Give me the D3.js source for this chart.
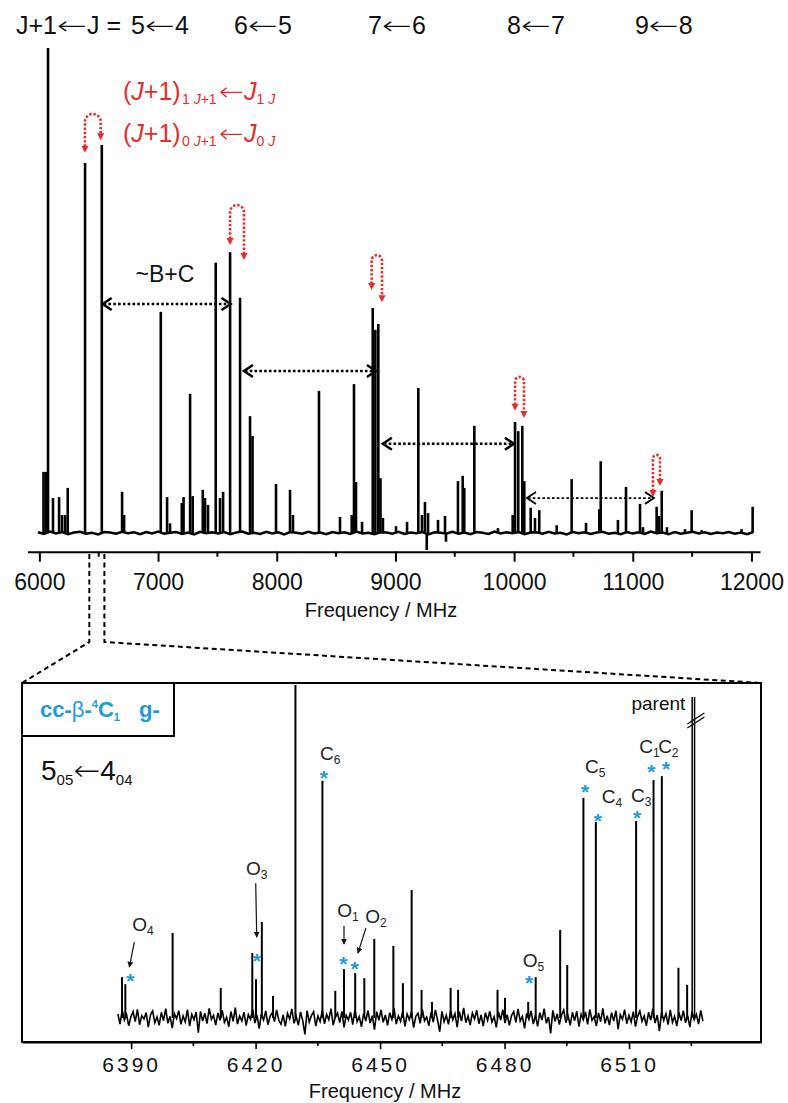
<!DOCTYPE html>
<html>
<head>
<meta charset="utf-8">
<script src="https://cdn.jsdelivr.net/npm/d3@7"></script>
<style>
  body { margin: 0; background: #fff; }
  svg text { font-family: "Liberation Sans", Arial, sans-serif; }
</style>
</head>
<body>
<svg id="chart" width="788" height="1103"></svg>
<script>
// ---- survey spectrum 6-12 GHz: [MHz, relative intensity] ----
const surveyPeaks = [
  [6035, 12.6], [6055, 12.6], [6073, 100], [6115, 7.2], [6166, 7.4], [6191, 3.7], [6217, 3.7], [6239, 9.3],
  [6385, 76.3], [6526, 80.0], [6697, 8.5], [6714, 3.7], [7023, 45.6], [7076, 7.4], [7101, 2.0], [7200, 6.2],
  [7215, 7.4], [7270, 28.7], [7292, 7.6], [7377, 8.9], [7396, 7.2], [7421, 5.8], [7486, 55.7], [7522, 7.2],
  [7548, 8.5], [7607, 57.9], [7691, 48.5], [7775, 24.1], [7796, 20.0], [7994, 10.1], [8112, 8.9], [8137, 3.7],
  [8356, 29.3], [8533, 3.3], [8632, 3.7], [8651, 30.7], [8668, 10.5], [8719, 2.3], [8809, 46.4], [8831, 41.9],
  [8856, 43.1], [8874, 11.3], [8895, 3.1], [9005, 1.4], [9098, 2.3], [9193, 29.9], [9224, 3.7], [9249, 6.4],
  [9275, 4.1], [9359, 2.7], [9418, 3.5], [9527, 10.7], [9567, 11.8], [9580, 9.3], [9665, 22.1], [9864, 1.0],
  [9988, 3.7], [10008, 22.9], [10035, 21.0], [10069, 22.1], [10086, 10.7], [10140, 5.2], [10176, 3.1], [10212, 4.7],
  [10359, 1.6], [10485, 11.1], [10606, 2.1], [10718, 4.9], [10730, 14.8], [10875, 2.7], [10943, 9.5], [11061, 6.0],
  [11086, 1.2], [11201, 5.4], [11221, 3.5], [11244, 8.7], [11288, 1.2], [11440, 0.8], [11496, 4.7], [11580, 0.6],
  [11917, 0.8], [12010, 5.4], [9264, -3.5], [9426, -1.8]
];
const surveyNoiseRange = [5988, 12012];
const surveyNoise = [
  0.15, -0.2, 0.3, -0.1, 0.2, -0.25, 0.1, 0.25, -0.15, 0.05,
  -0.3, 0.2, 0.1, -0.15, 0.25, -0.05, 0.15, -0.25, 0.2, -0.1,
  0.3, -0.15, 0.05, 0.2, -0.2, 0.1, -0.3, 0.25, -0.05, 0.15,
  -0.1, 0.2, -0.25, 0.1, 0.3, -0.15, 0.05, -0.2, 0.25, -0.1,
  0.15, -0.3, 0.2, 0.05, -0.15, 0.25, -0.1, 0.1, -0.25, 0.2,
  -0.05, 0.15, -0.2, 0.3, -0.1, 0.05, -0.25, 0.15, 0.1, -0.15,
  0.25, -0.2, 0.1, -0.05, 0.2, -0.3, 0.15, 0.05, -0.1, 0.25,
  -0.15, 0.1, -0.25, 0.2, 0.05, -0.2, 0.3, -0.1, 0.15, -0.05,
  0.2, -0.25, 0.1, 0.15, -0.15, 0.25, -0.1, 0.05, -0.3, 0.2,
  -0.05, 0.15, -0.2, 0.1, 0.25, -0.15, 0.05, -0.25, 0.2, -0.1,
  0.15, -0.2, 0.3, -0.05, 0.1, -0.25, 0.2, -0.15, 0.05, 0.25,
  -0.1, 0.15, -0.2, 0.1, -0.05, 0.2, -0.15, 0.1, -0.25, 0.15
];
const surveyTicks = [6000, 7000, 8000, 9000, 10000, 11000, 12000];
const surveyMinor = [6500, 7500, 8500, 9500, 10500, 11500];

// a-type R-branch groups
const bandLabels = ["5←4", "6←5", "7←6", "8←7", "9←8"];
const bandCenters = [7016, 7884, 9013, 10184, 11262];

// red hooks: K-1 = 1 and 0 pairs  (MHz and intensity of both tips, arch top)
const hooks = [
  { fL: 6384, iL: 78.4, fR: 6517, iR: 81.0, iTop: 86.4 },
  { fL: 7607, iL: 59.4, fR: 7724, iR: 56.3, iTop: 67.6 },
  { fL: 8800, iL: 50.1, fR: 8887, iR: 47.6, iTop: 57.3 },
  { fL: 10008, iL: 25.2, fR: 10083, iR: 23.7, iTop: 32.2 },
  { fL: 11170, iL: 7.4, fR: 11229, iR: 9.7, iTop: 16.1 }
];
// ~B+C spacings
const spacings = [
  { f1: 6525, f2: 7620, lvl: 47.2 },
  { f1: 7715, f2: 8844, lvl: 33.4 },
  { f1: 8886, f2: 10007, lvl: 18.4 },
  { f1: 10100, f2: 11187, lvl: 7.2 }
];
const zoomSpan = [6421, 6548];

// ---- zoom on 5_05 <- 4_04 ----
const zoomPeaks = [
  [6387.8, 12.2], [6388.6, 10.1], [6400.0, 25.4], [6411.6, 9.0], [6419.2, 19.4], [6420.1, 11.6], [6421.5, 28.7],
  [6424.2, 6.6], [6429.6, 99.4], [6436.1, 70.8], [6439.2, 8.1], [6441.3, 14.6], [6444.0, 13.4], [6446.2, 11.9],
  [6448.6, 23.6], [6453.2, 21.5], [6455.5, 10.4], [6457.6, 38.2], [6460.0, 8.4], [6462.5, 4.8], [6467.0, 9.0],
  [6468.8, 8.4], [6478.3, 8.4], [6480.1, 6.0], [6485.7, 4.8], [6487.5, 12.2], [6493.4, 26.3], [6495.1, 15.8],
  [6499.0, 65.7], [6502.0, 58.5], [6511.7, 58.8], [6515.9, 71.0], [6517.9, 72.2], [6521.9, 15.0], [6524.0, 9.9]
];
const parentPeak = [6525.5, 95.8];
const zoomNoiseRange = [6386.8, 6527.8];
const zoomNoise = [
  1.2, -1.8, 2.4, -0.6, 1.0, -2.3, 0.4, 1.9, -1.1, 2.6, -2.0, 0.7, -0.3, 1.6, -2.7,
  0.9, 2.1, -1.4, 0.3, -2.2, 1.7, -0.8, 2.8, -1.6, 0.5, -3.0, 1.3, -0.2, 2.2, -1.9,
  0.6, -1.2, 2.5, -2.4, 1.1, -0.5, 1.8, -4.4, 2.0, -0.9, 1.4, -1.7, 2.9, -0.4, 0.8,
  -2.1, 1.5, -0.7, 2.3, -1.3, 0.2, -2.6, 1.9, -1.0, 3.1, -1.8, 0.6, -0.9, 1.7, -2.3,
  1.0, -0.4, 2.6, -1.5, 0.8, -3.2, 1.2, -0.6, 2.1, -2.0, 0.5, 1.6, -1.1, 2.4, -0.7,
  -1.9, 0.9, -2.5, 1.4, -0.3, 2.7, -1.6, 0.4, -2.2, 1.8, -0.8, -4.9, 2.2, -1.2, 0.7,
  1.9, -2.4, 0.6, -1.0, 2.3, -1.7, 1.1, -0.5, 2.8, -2.1, 0.3, 1.5, -1.4, 2.0, -2.8,
  0.8, -0.6, 1.7, -2.0, 2.5, -1.1, 0.4, -2.6, 1.3, -0.9, 2.2, -1.5, 0.7, -3.5, 1.9,
  -0.7, 2.4, -1.3, 0.9, -2.2, 1.6, -0.4, 2.9, -1.8, 0.6, -1.0, 2.1, -2.5, 1.2, -0.5,
  1.8, -2.9, 0.5, 1.4, -1.6, 2.6, -0.8, 0.3, -2.3, 1.7, -1.2, 2.4, -0.6, -4.1, 2.0,
  -1.1, 0.8, -1.9, 2.2, -0.5, 1.3, -2.7, 1.9, -0.9, 3.0, -1.4, 0.6, -2.1, 1.5, -0.3,
  2.3, -1.7, 0.9, -2.4, 1.6, -0.7, 2.0, -1.2, 0.4, -2.8, 1.8, -0.6, 2.5, -1.5, 1.0,
  -2.2, 0.7, 1.9, -1.3, 2.7, -0.9, 0.5, -3.1, 1.4, -0.4, 2.1, -1.8, 0.8, -2.5, 1.6,
  -0.6, 2.8, -1.6, 0.3, -4.6, 2.3, -1.0, 1.2, -2.0, 0.9, 2.4, -1.4, 0.6, -2.2, 1.7,
  -0.8, 2.0, -2.6, 1.1, -0.5, 1.8, -1.9, 2.6, -0.7, 0.4, -2.4, 1.5, -1.1, 2.9, -1.6,
  0.7, -2.1, 1.6, -0.9, 2.2, -3.3, 1.0, -0.4, 2.5, -1.7, 0.8, -1.2, 1.9, -2.6, 0.5,
  2.1, -1.0, 0.6, -2.3, 1.7, -0.6, 2.8, -1.5, 0.9, -3.9, 1.8, -0.7, 1.3, -2.0, 2.4,
  -1.3, 0.5, -2.4, 1.6, -0.8, 2.2, -1.4, 0.7, -2.7, 1.9, -0.5, 1.1, -1.8, 2.3, -0.9
];
const zoomTicks = [6390, 6420, 6450, 6480, 6510];
const zoomMinor = [6405, 6435, 6465, 6495, 6525];
const assigned = [
  { id: "C6", name: "C", sub: "6", f: 6436.1 },
  { id: "C5", name: "C", sub: "5", f: 6499.0 },
  { id: "C4", name: "C", sub: "4", f: 6502.0 },
  { id: "C3", name: "C", sub: "3", f: 6511.7 },
  { id: "C1", name: "C", sub: "1", f: 6515.9 },
  { id: "C2", name: "C", sub: "2", f: 6517.9 },
  { id: "O4", name: "O", sub: "4", f: 6388.6 },
  { id: "O3", name: "O", sub: "3", f: 6420.1 },
  { id: "O1", name: "O", sub: "1", f: 6441.3 },
  { id: "O2", name: "O", sub: "2", f: 6444.0 },
  { id: "O5", name: "O", sub: "5", f: 6487.5 }
];

// label placement relative to the peak top (px)
const nudge = {
  C6: { star: [1.5, -7.7], label: [-2.5, -20.7] },
  C5: { star: [1.7, -11], label: [1.7, -25] },
  C4: { star: [2, -6], label: [6, -19] },
  C3: { star: [1, -8], label: [-5, -19] },
  C1: { star: [-2.3, -13], label: [-14.3, -27] },
  C2: { star: [4.3, -12], label: [-3.7, -23] },
  O4: { star: [5, -8], label: [7, -53], arrow: [9, -42, 4, -17] },
  O3: { star: [0.7, -23], label: [-10, -104], arrow: [-0.3, -96, 0.7, -42] },
  O1: { star: [-0.7, -10], label: [-6.7, -52], arrow: [0, -43, 0, -25] },
  O2: { star: [-0.7, -9], label: [10, -50], arrow: [10.7, -45, 2.7, -20] },
  O5: { star: [-6.5, 1], label: [-13, -10] }
};

const RED = "#e52d2b";
const BLUE = "#1d9bd7";
const INK = "#111";

const svg = d3.select("#chart");
svg.append("defs").append("marker")
  .attr("id", "ah").attr("viewBox", "0 0 10 10").attr("refX", 9).attr("refY", 5)
  .attr("markerWidth", 5).attr("markerHeight", 5).attr("orient", "auto")
  .append("path").attr("d", "M0,0L10,5L0,10z").attr("fill", INK);

// long arrow glyph stretched to a given width
function arrow(sel, w) {
  return sel.append("tspan").attr("textLength", w).attr("lengthAdjust", "spacingAndGlyphs")
    .attr("font-family", '"DejaVu Sans", sans-serif').attr("font-weight", 200).text("←");
}

// scales
const xT = d3.scaleLinear().domain([5900, 12072]).range([27.5, 760]);
const yT = d3.scaleLinear().domain([0, 100]).range([533, 48]);
const xB = d3.scaleLinear().domain([6363.7, 6541.8]).range([22, 761]);
const yB = d3.scaleLinear().domain([0, 100]).range([1018, 683]);

// ================= top panel =================
const axT = svg.append("g").attr("transform", "translate(0,551.7)")
  .call(d3.axisBottom(xT).tickValues(surveyTicks).tickSize(10).tickPadding(12)
    .tickSizeOuter(0).tickFormat(d3.format("d")));
axT.select(".domain").attr("stroke-width", 2);
axT.selectAll(".tick line").attr("stroke-width", 2);
axT.selectAll(".tick text").attr("font-size", 23).attr("fill", INK)
  .attr("font-family", '"Liberation Sans", Arial, sans-serif');
axT.selectAll(".minor").data(surveyMinor).join("line").attr("class", "minor")
  .attr("x1", xT).attr("x2", xT).attr("y1", 0).attr("y2", 5)
  .attr("stroke", "#000").attr("stroke-width", 2);

svg.append("text").attr("x", 381).attr("y", 617).attr("text-anchor", "middle")
  .attr("font-size", 20).attr("fill", INK).text("Frequency / MHz");

const stepT = (surveyNoiseRange[1] - surveyNoiseRange[0]) / (surveyNoise.length - 1);
svg.append("path")
  .attr("d", d3.line().x((d, i) => xT(surveyNoiseRange[0] + i * stepT)).y(d => yT(d))(surveyNoise))
  .attr("fill", "none").attr("stroke", "#000").attr("stroke-width", 2.6);

svg.append("g").selectAll("line").data(surveyPeaks).join("line")
  .attr("x1", d => xT(d[0])).attr("x2", d => xT(d[0]))
  .attr("y1", yT(0)).attr("y2", d => yT(d[1]))
  .attr("stroke", "#000").attr("stroke-width", 2.6);

// header
const hdr = svg.append("g").attr("font-size", 25).attr("fill", INK);
let firstBox = null;
bandLabels.forEach((lab, i) => {
  const [a, b] = lab.split("←");
  const t = hdr.append("text").attr("x", xT(bandCenters[i])).attr("y", 34).attr("text-anchor", "middle");
  t.append("tspan").text(a);
  arrow(t, 30);
  t.append("tspan").text(b);
  if (i === 0) firstBox = t.node().getBBox();
});
const pre = hdr.append("text").attr("x", firstBox.x - 10).attr("y", 34).attr("text-anchor", "end");
pre.append("tspan").text("J+1");
arrow(pre, 30);
pre.append("tspan").text("J =");

// red legend
function redLine(y, k) {
  const t = svg.append("text").attr("y", y).attr("font-size", 25).attr("fill", RED);
  t.append("tspan").attr("x", 123).text("(");
  t.append("tspan").attr("font-style", "italic").text("J");
  t.append("tspan").text("+1)");
  t.append("tspan").attr("x", 182).attr("dy", 4).attr("font-size", 14).text(k + " ");
  t.append("tspan").attr("font-size", 14).attr("font-style", "italic").text("J");
  t.append("tspan").attr("font-size", 14).text("+1");
  arrow(t, 25).attr("x", 219).attr("dy", -4);
  t.append("tspan").attr("font-style", "italic").text("J");
  t.append("tspan").attr("dy", 4).attr("font-size", 14).text(k + " ");
  t.append("tspan").attr("font-size", 14).attr("font-style", "italic").text("J");
}
redLine(100, "1");
redLine(142, "0");

// red hook arrows
const hookG = svg.append("g");
hooks.forEach(h => {
  const xl = xT(h.fL), xr = xT(h.fR), r = (xr - xl) / 2, yt = yT(h.iTop);
  const yl = yT(h.iL), yr = yT(h.iR);
  hookG.append("path")
    .attr("d", `M${xl},${yl - 6}L${xl},${yt + r}A${r},${r} 0 0 1 ${xr},${yt + r}L${xr},${yr - 6}`)
    .attr("fill", "none").attr("stroke", RED).attr("stroke-width", 2.6).attr("stroke-dasharray", "2.4,1.8");
  [[xl, yl], [xr, yr]].forEach(([x, y]) => {
    hookG.append("path").attr("d", `M${x - 3.6},${y - 7}L${x + 3.6},${y - 7}L${x},${y}Z`).attr("fill", RED);
  });
});

// ~B+C spacing arrows
const spG = svg.append("g").attr("fill", "none").attr("stroke", "#000");
spacings.forEach((s, i) => {
  const x1 = xT(s.f1), x2 = xT(s.f2), y = yT(s.lvl);
  const w = i === 3 ? 1.8 : 2.5;
  spG.append("line").attr("x1", x1 + 2).attr("x2", x2 - 2).attr("y1", y).attr("y2", y)
    .attr("stroke-width", w).attr("stroke-dasharray", "2.6,2.2");
  spG.append("path").attr("d", `M${x1 + 10},${y - 6}L${x1 + 1},${y}L${x1 + 10},${y + 6}`).attr("stroke-width", w);
  spG.append("path").attr("d", `M${x2 - 10},${y - 6}L${x2 - 1},${y}L${x2 - 10},${y + 6}`).attr("stroke-width", w);
});
svg.append("text").attr("x", xT(7058)).attr("y", yT(51.8)).attr("text-anchor", "middle")
  .attr("font-size", 23).attr("fill", INK).text("~B+C");

// dashed zoom guides
const guide = svg.append("g").attr("fill", "none").attr("stroke", "#000")
  .attr("stroke-width", 2).attr("stroke-dasharray", "5,3.5");
guide.append("path").attr("d", `M${xT(zoomSpan[0])},554V642L${xB.range()[0]},683`);
guide.append("path").attr("d", `M${xT(zoomSpan[1])},554V642L${xB.range()[1]},683`);

// ================= bottom panel =================
svg.append("rect").attr("x", 22).attr("y", 683).attr("width", 739).attr("height", 359)
  .attr("fill", "none").attr("stroke", "#000").attr("stroke-width", 2);
svg.append("rect").attr("x", 22).attr("y", 683).attr("width", 152).attr("height", 53)
  .attr("fill", "none").attr("stroke", "#000").attr("stroke-width", 2);

const axB = svg.append("g").attr("transform", "translate(0,1042)")
  .call(d3.axisBottom(xB).tickValues(zoomTicks).tickSize(7).tickPadding(8)
    .tickSizeOuter(0).tickFormat(d3.format("d")));
axB.select(".domain").attr("stroke-width", 2);
axB.selectAll(".tick line").attr("stroke-width", 1.6);
axB.selectAll(".tick text").attr("font-size", 21).attr("fill", INK).attr("letter-spacing", 3)
  .attr("font-family", '"Liberation Sans", Arial, sans-serif');
axB.selectAll(".minor").data(zoomMinor).join("line").attr("class", "minor")
  .attr("x1", xB).attr("x2", xB).attr("y1", 0).attr("y2", 4)
  .attr("stroke", "#000").attr("stroke-width", 1.6);
svg.append("text").attr("x", 385).attr("y", 1098).attr("text-anchor", "middle")
  .attr("font-size", 20).attr("fill", INK).text("Frequency / MHz");

const stepB = (zoomNoiseRange[1] - zoomNoiseRange[0]) / (zoomNoise.length - 1);
svg.append("path")
  .attr("d", d3.line().x((d, i) => xB(zoomNoiseRange[0] + i * stepB)).y(d => yB(d))(zoomNoise))
  .attr("fill", "none").attr("stroke", "#000").attr("stroke-width", 1.6);

svg.append("g").selectAll("line").data(zoomPeaks).join("line")
  .attr("x1", d => xB(d[0])).attr("x2", d => xB(d[0]))
  .attr("y1", yB(0)).attr("y2", d => yB(d[1]))
  .attr("stroke", "#000").attr("stroke-width", 2);

// parent line (off scale)
const px = xB(parentPeak[0]);
[-1.2, 1.2].forEach(o => {
  svg.append("line").attr("x1", px + o).attr("x2", px + o).attr("y1", yB(0)).attr("y2", yB(parentPeak[1]))
    .attr("stroke", "#000").attr("stroke-width", 1.5);
});
[0, 4].forEach(o => {
  svg.append("line").attr("x1", px - 6).attr("x2", px + 11).attr("y1", 724 + o).attr("y2", 713 + o)
    .attr("stroke", "#000").attr("stroke-width", 1.2);
});
svg.append("text").attr("x", px - 8).attr("y", 710).attr("text-anchor", "end")
  .attr("font-size", 19).attr("fill", INK).text("parent");

// assignments
const annG = svg.append("g");
assigned.forEach(a => {
  const pk = zoomPeaks.find(p => p[0] === a.f);
  const x0 = xB(pk[0]), y0 = yB(pk[1]);
  const n = nudge[a.id];
  annG.append("text").attr("x", x0 + n.star[0]).attr("y", y0 + n.star[1] + 12)
    .attr("text-anchor", "middle").attr("font-size", 21).attr("font-weight", "bold")
    .attr("fill", BLUE).text("*");
  const t = annG.append("text").attr("x", x0 + n.label[0]).attr("y", y0 + n.label[1])
    .attr("font-size", 19).attr("fill", "#222");
  t.append("tspan").text(a.name);
  t.append("tspan").attr("dy", 4).attr("font-size", 12).text(a.sub);
  if (n.arrow) {
    annG.append("line").attr("x1", x0 + n.arrow[0]).attr("y1", y0 + n.arrow[1])
      .attr("x2", x0 + n.arrow[2]).attr("y2", y0 + n.arrow[3])
      .attr("stroke", INK).attr("stroke-width", 1.2).attr("marker-end", "url(#ah)");
  }
});

// conformer tag
const tag = svg.append("text").attr("y", 717).attr("font-size", 22).attr("font-weight", "bold").attr("fill", BLUE);
tag.append("tspan").attr("x", 40).text("cc-");
tag.append("tspan").attr("font-weight", "normal").text("β");
tag.append("tspan").text("-");
tag.append("tspan").attr("dy", -9).attr("font-size", 11).text("4");
tag.append("tspan").attr("dy", 9).text("C");
tag.append("tspan").attr("dy", 4).attr("font-size", 11).text("1");
tag.append("tspan").attr("dy", -4).attr("x", 139).text("g-");

// transition label
const tr = svg.append("text").attr("x", 41).attr("y", 780).attr("font-size", 28).attr("fill", INK);
tr.append("tspan").text("5");
tr.append("tspan").attr("dy", 5).attr("font-size", 15).text("05");
arrow(tr, 27).attr("dy", -5);
tr.append("tspan").text("4");
tr.append("tspan").attr("dy", 5).attr("font-size", 15).text("04");
</script>
</body>
</html>
